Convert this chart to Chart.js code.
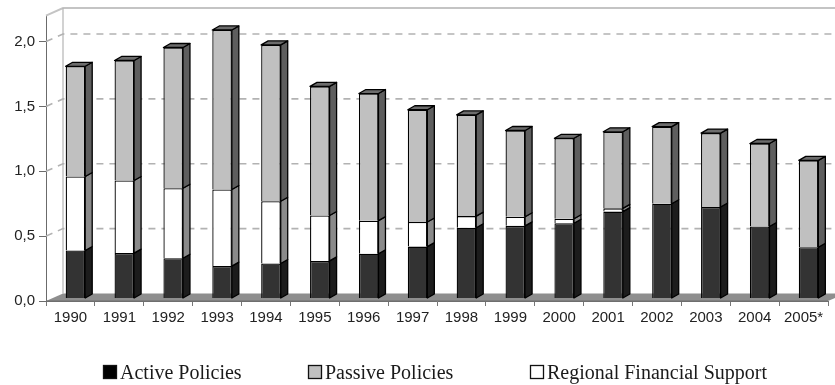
<!DOCTYPE html>
<html>
<head>
<meta charset="utf-8">
<script src="https://cdn.jsdelivr.net/npm/chart.js@4.4.1/dist/chart.umd.min.js"></script>
<style>
  html, body { margin: 0; padding: 0; background: #fff; }
  #wrap { width: 835px; height: 385px; position: relative; }
</style>
</head>
<body>
<div id="wrap"><canvas id="policyChart"></canvas></div>
<script>
// Spending on labour market policies, % of GDP
const years = ['1990', '1991', '1992', '1993', '1994', '1995', '1996', '1997',
               '1998', '1999', '2000', '2001', '2002', '2003', '2004', '2005*'];
const activePolicies   = [0.37, 0.35, 0.31, 0.25, 0.27, 0.29, 0.345, 0.40, 0.545, 0.56, 0.58, 0.67, 0.73, 0.705, 0.555, 0.395];
const regionalSupport  = [0.57, 0.56, 0.54, 0.59, 0.48, 0.35, 0.255, 0.19, 0.09, 0.07, 0.035, 0.025, 0, 0, 0, 0];
const passivePolicies  = [0.85, 0.925, 1.085, 1.23, 1.205, 0.995, 0.98, 0.865, 0.78, 0.665, 0.62, 0.59, 0.595, 0.57, 0.64, 0.67];
const yTicks = [0, 0.5, 1.0, 1.5, 2.0];
const legendOrder = ['Active Policies', 'Passive Policies', 'Regional Financial Support'];

// pseudo-3D offsets (pixels)
const wallDx = 17, wallDy = -7.5;   // back wall / floor depth
const barDx = 5, barDy = -2.5;      // bar front face sits a bit into the floor
const sideDx = 7, sideDy = -4;      // bar depth

const fmtComma = v => Number(v).toFixed(1).replace('.', ',');

const box3d = {
  id: 'box3d',
  beforeDatasetsDraw(chart) {
    const { ctx, chartArea: a, scales: { y } } = chart;
    const W = chart.width;
    ctx.save();
    // walls
    ctx.strokeStyle = '#c4c4c4';
    ctx.lineWidth = 2;
    ctx.beginPath();
    ctx.moveTo(a.left, a.top);
    ctx.lineTo(a.left + wallDx, a.top + wallDy);
    ctx.lineTo(W, a.top + wallDy);
    ctx.stroke();
    ctx.lineWidth = 1.2;
    ctx.strokeStyle = '#b4b4b4';
    ctx.beginPath();
    ctx.moveTo(a.left + wallDx, a.top + wallDy);
    ctx.lineTo(a.left + wallDx, a.bottom + wallDy);
    ctx.stroke();
    // dashed gridlines across left wall and back wall
    ctx.setLineDash([7, 6]);
    ctx.strokeStyle = '#b2b2b2';
    ctx.lineWidth = 1.6;
    y.ticks.forEach(t => {
      if (t.value === 0) return;
      const py = y.getPixelForValue(t.value);
      ctx.beginPath();
      ctx.moveTo(a.left, py);
      ctx.lineTo(a.left + wallDx, py + wallDy);
      ctx.lineTo(W, py + wallDy);
      ctx.stroke();
    });
    ctx.setLineDash([]);
    // floor
    ctx.fillStyle = '#8e8e8e';
    ctx.beginPath();
    ctx.moveTo(a.left, a.bottom);
    ctx.lineTo(a.right, a.bottom);
    ctx.lineTo(a.right + wallDx, a.bottom + wallDy);
    ctx.lineTo(a.left + wallDx, a.bottom + wallDy);
    ctx.closePath();
    ctx.fill();
    ctx.strokeStyle = '#6e6e6e';
    ctx.lineWidth = 1;
    ctx.beginPath();
    ctx.moveTo(a.left, a.bottom);
    ctx.lineTo(a.right, a.bottom);
    ctx.stroke();
    ctx.restore();
  },
  beforeDatasetDraw(chart) {
    chart.ctx.save();
    chart.ctx.translate(barDx, barDy);
  },
  afterDatasetDraw(chart) {
    chart.ctx.restore();
  },
  afterDatasetsDraw(chart) {
    const ctx = chart.ctx;
    const n = chart.data.labels.length;
    ctx.save();
    ctx.strokeStyle = '#000';
    ctx.lineWidth = 1.3;
    ctx.lineJoin = 'round';
    for (let j = 0; j < n; j++) {
      let topBar = null;
      chart.data.datasets.forEach((ds, i) => {
        const bar = chart.getDatasetMeta(i).data[j];
        const t = Math.min(bar.y, bar.base) + barDy;
        const b = Math.max(bar.y, bar.base) + barDy;
        if (b - t < 0.5) return;
        const r = bar.x + bar.width / 2 + barDx;
        ctx.fillStyle = ds.sideColor;
        ctx.beginPath();
        ctx.moveTo(r, t);
        ctx.lineTo(r + sideDx, t + sideDy);
        ctx.lineTo(r + sideDx, b + sideDy);
        ctx.lineTo(r, b);
        ctx.closePath();
        ctx.fill();
        ctx.stroke();
        if (!topBar || t < topBar.t) topBar = { bar, t };
      });
      if (topBar) {
        const { bar, t } = topBar;
        const l = bar.x - bar.width / 2 + barDx;
        const r = bar.x + bar.width / 2 + barDx;
        ctx.fillStyle = '#6c6c6c';
        ctx.beginPath();
        ctx.moveTo(l, t);
        ctx.lineTo(l + sideDx, t + sideDy);
        ctx.lineTo(r + sideDx, t + sideDy);
        ctx.lineTo(r, t);
        ctx.closePath();
        ctx.fill();
        ctx.stroke();
      }
    }
    ctx.restore();
  },
  afterDraw(chart) {
    // legend row under the axis
    const ctx = chart.ctx;
    const xs = [103, 308, 530];
    const boxY = 365, size = 14;
    ctx.save();
    ctx.font = '20px "Liberation Serif"';
    ctx.textBaseline = 'alphabetic';
    legendOrder.forEach((name, k) => {
      const ds = chart.data.datasets.find(d => d.label === name);
      ctx.fillStyle = ds.legendFill;
      ctx.fillRect(xs[k], boxY, size, size);
      ctx.strokeStyle = '#111';
      ctx.lineWidth = 1.3;
      ctx.strokeRect(xs[k] + 0.5, boxY + 0.5, size - 1, size - 1);
      ctx.fillStyle = '#1a1a1a';
      ctx.fillText(name, xs[k] + size + 3, 378.5);
    });
    ctx.restore();
  }
};

const tickFont = { family: '"Liberation Sans", Arial, sans-serif', size: 15 };

new Chart(document.getElementById('policyChart'), {
  type: 'bar',
  data: {
    labels: years,
    datasets: [
      { label: 'Active Policies', data: activePolicies, backgroundColor: '#333333', sideColor: '#1c1c1c', legendFill: '#000000' },
      { label: 'Regional Financial Support', data: regionalSupport, backgroundColor: '#ffffff', sideColor: '#8a8a8a', legendFill: '#ffffff' },
      { label: 'Passive Policies', data: passivePolicies, backgroundColor: '#c0c0c0', sideColor: '#5e5e5e', legendFill: '#c0c0c0' }
    ]
  },
  options: {
    responsive: true, maintainAspectRatio: false, animation: false,
    layout: { padding: { top: 15.6, right: 7, left: 0, bottom: 0 } },
    datasets: { bar: { categoryPercentage: 1, barPercentage: 0.4, borderColor: '#000', borderWidth: 1.3 } },
    plugins: { legend: { display: false }, tooltip: { enabled: false } },
    scales: {
      x: {
        stacked: true,
        afterFit: s => { s.height = 84; },
        border: { display: true, color: '#6e6e6e' },
        grid: { drawOnChartArea: false, offset: true, tickLength: 5, color: '#777' },
        ticks: { font: tickFont, color: '#222', padding: 3, maxRotation: 0, autoSkip: false }
      },
      y: {
        stacked: true, min: 0, max: 2.2,
        afterBuildTicks: s => { s.ticks = yTicks.map(v => ({ value: v })); },
        afterFit: s => { s.width = 46; },
        border: { color: '#6b6b6b', width: 1 },
        grid: { drawOnChartArea: false, tickLength: 7, color: '#6b6b6b' },
        ticks: { font: tickFont, color: '#222', padding: 4, callback: fmtComma }
      }
    }
  },
  plugins: [box3d]
});
</script>
</body>
</html>
